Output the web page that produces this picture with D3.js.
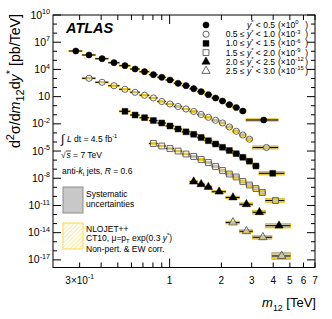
<!DOCTYPE html>
<html>
<head>
<meta charset="utf-8">
<script src="https://cdn.jsdelivr.net/npm/d3@7"></script>
<style>
  body { margin: 0; background: #fff; }
  svg { font-family: "Liberation Sans", Arial, Helvetica, sans-serif; }
</style>
</head>
<body>
<div id="chart"></div>
<script>
// bin edges in TeV, last edge closes the last (wide) bin
var edges1 = [0.26,0.31,0.37,0.44,0.51,0.59,0.67,0.76,0.85,0.95,1.06,1.18,1.31,1.45,1.60,1.76,1.94,2.12,2.33,2.55,2.78,4.27];
var edges2 = [0.31,0.37,0.44,0.51,0.59,0.67,0.76,0.85,0.95,1.06,1.18,1.31,1.45,1.60,1.76,1.94,2.12,2.33,2.55,2.78,3.04,4.27];
var edges3 = [0.51,0.59,0.67,0.76,0.85,0.95,1.06,1.18,1.31,1.45,1.60,1.76,1.94,2.12,2.33,2.55,2.78,3.04,3.31,4.64];
var edges4 = [0.76,0.85,0.95,1.06,1.18,1.31,1.45,1.60,1.76,1.94,2.12,2.33,2.55,2.78,3.04,3.31,3.61,4.64];
var edges5 = [1.31,1.45,1.60,1.76,2.12,2.55,3.04,3.61,5.04];
var edges6 = [2.12,2.55,3.04,3.93,5.04];

// measured cross-sections [pb/TeV] (before the legend scale factor)
var xs1 = [1.07e6,3.9e5,1.52e5,5.5e4,2.57e4,1.11e4,5.6e3,2.62e3,1.35e3,680,295,160,75,35,16.3,7.1,3.3,1.29,0.63,0.26,0.0265];
var xs2 = [1.05e6,3.8e5,1.6e5,6.4e4,3.0e4,1.4e4,7.1e3,2.9e3,1.54e3,817,433,229,107,52.6,24.5,12.4,4.5,1.51,0.59,0.203,0.0246];
var xs3 = [2.4e5,9.4e4,4.75e4,2.33e4,1.24e4,5.8e3,2.7e3,1.32e3,703,312,138,60,25.9,11.5,5.1,2.05,0.76,0.224,0.035];
var xs4 = [6.8e4,3.6e4,1.9e4,1.0e4,4.7e3,2.5e3,1.17e3,547,198,72,29.5,13.8,4.4,1.81,0.74,0.27,0.035];
var xs5 = [4.2e3,2.16e3,1.09e3,330,76,13.5,1.77,0.059];
var xs6 = [132,14.2,3.1,0.027];

// relative systematic uncertainties
var sys1 = [0.1,0.1,0.1,0.1,0.1,0.1,0.1,0.1,0.1,0.11,0.12,0.12,0.13,0.14,0.15,0.16,0.18,0.2,0.22,0.25,0.3];
var sys2 = [0.1,0.1,0.1,0.1,0.1,0.1,0.1,0.1,0.11,0.12,0.12,0.13,0.14,0.15,0.16,0.18,0.2,0.22,0.25,0.3,0.45];
var sys3 = [0.1,0.1,0.1,0.1,0.11,0.12,0.12,0.13,0.14,0.15,0.16,0.18,0.2,0.22,0.25,0.28,0.3,0.35,0.5];
var sys4 = [0.12,0.12,0.12,0.13,0.14,0.15,0.16,0.18,0.2,0.22,0.25,0.28,0.3,0.35,0.4,0.45,0.6];
var sys5 = [0.2,0.22,0.25,0.3,0.35,0.4,0.55,0.7];
var sys6 = [0.35,0.45,0.55,1.4];

// relative theory (NLOJET++) uncertainties
var th1 = [0.2,0.2,0.2,0.2,0.2,0.2,0.2,0.2,0.2,0.2,0.2,0.22,0.22,0.24,0.25,0.27,0.3,0.32,0.35,0.38,0.35];
var th2 = [0.2,0.2,0.2,0.2,0.2,0.2,0.2,0.2,0.2,0.22,0.22,0.24,0.25,0.27,0.3,0.32,0.35,0.38,0.4,0.42,0.5];
var th3 = [0.2,0.2,0.2,0.2,0.2,0.22,0.22,0.24,0.25,0.27,0.3,0.32,0.35,0.38,0.4,0.42,0.45,0.5,0.45];
var th4 = [0.22,0.22,0.22,0.24,0.25,0.27,0.3,0.32,0.35,0.38,0.4,0.42,0.45,0.5,0.55,0.6,0.6];
var th5 = [0.3,0.32,0.35,0.38,0.42,0.45,0.5,0.8];
var th6 = [0.45,0.5,0.6,1.0];

var rangeLabels = [
  [{t:"y",i:1},{t:"*",sup:1},{t:" < 0.5"}],
  [{t:"0.5 ≤ "},{t:"y",i:1},{t:"*",sup:1},{t:" < 1.0"}],
  [{t:"1.0 ≤ "},{t:"y",i:1},{t:"*",sup:1},{t:" < 1.5"}],
  [{t:"1.5 ≤ "},{t:"y",i:1},{t:"*",sup:1},{t:" < 2.0"}],
  [{t:"2.0 ≤ "},{t:"y",i:1},{t:"*",sup:1},{t:" < 2.5"}],
  [{t:"2.5 ≤ "},{t:"y",i:1},{t:"*",sup:1},{t:" < 3.0"}]
];
var scaleExps = [0, -3, -6, -9, -12, -15];
var markerShapes = ["circle", "circle", "square", "square", "triangle", "triangle"];
var markerOpen = [false, true, false, true, false, true];

var xTickMinor = [0.3,0.4,0.5,0.6,0.7,0.8,0.9,2,3,4,5,6,7];
var xTickMajor = [1];
var xTickLabels = [0.3,1,2,3,4,5,6,7];

var W = 332, H = 319;
var frame = {left: 53, right: 315, top: 15, bottom: 267.5};
var yellow = "#f2c900", yellowHatch = "#f7d84a";

var x = d3.scaleLog().domain([0.21, 7]).range([frame.left, frame.right]);
var y = d3.scaleLog().domain([Math.pow(10, -17.84), 1e10]).range([frame.bottom, frame.top]);

var svg = d3.select("#chart").append("svg")
    .attr("width", W)
    .attr("height", H);

var pat = svg.append("defs").append("pattern")
    .attr("id", "hatch")
    .attr("patternUnits", "userSpaceOnUse")
    .attr("width", 3)
    .attr("height", 3)
    .attr("patternTransform", "rotate(45)");
pat.append("line")
    .attr("x1", 0).attr("y1", 0).attr("x2", 0).attr("y2", 3)
    .attr("stroke", yellowHatch)
    .attr("stroke-width", 1.1);

// rich text helper: parts with italic / sup / sub
function rich(textSel, parts, size, small) {
    var cur = 0;
    small = small || 0.68;
    parts.forEach(function (p) {
        var want = p.sup ? -size * 0.42 : (p.sub ? size * 0.28 : 0);
        var ts = textSel.append("tspan").text(p.t);
        if (want - cur !== 0) ts.attr("dy", want - cur);
        cur = want;
        if (p.i) ts.attr("font-style", "italic");
        if (p.sup || p.sub) ts.attr("font-size", size * small);
    });
    return textSel;
}

// frame
svg.append("rect")
    .attr("x", frame.left).attr("y", frame.top)
    .attr("width", frame.right - frame.left)
    .attr("height", frame.bottom - frame.top)
    .attr("fill", "none")
    .attr("stroke", "#000")
    .attr("stroke-width", 1);

var ticks = svg.append("g").attr("stroke", "#000").attr("stroke-width", 1);

// y ticks each decade, long ones every three decades
d3.range(-17, 11).forEach(function (e) {
    var yy = y(Math.pow(10, e));
    var len = ((e - 10) % 3 === 0) ? 8 : 4;
    ticks.append("line").attr("x1", frame.left).attr("x2", frame.left + len).attr("y1", yy).attr("y2", yy);
    ticks.append("line").attr("x1", frame.right).attr("x2", frame.right - len).attr("y1", yy).attr("y2", yy);
    if ((e - 10) % 3 === 0) {
        var t = svg.append("text")
            .attr("x", 50).attr("y", yy + 3.6)
            .attr("text-anchor", "end")
            .attr("font-size", 10.5);
        if (e === 1) rich(t, [{t: "10"}], 10.5);
        else rich(t, [{t: "10"}, {t: String(e), sup: 1}], 10.5);
    }
});

// x ticks
xTickMinor.forEach(function (v) {
    var xx = x(v);
    ticks.append("line").attr("x1", xx).attr("x2", xx).attr("y1", frame.bottom).attr("y2", frame.bottom - 5);
    ticks.append("line").attr("x1", xx).attr("x2", xx).attr("y1", frame.top).attr("y2", frame.top + 5);
});
xTickMajor.forEach(function (v) {
    var xx = x(v);
    ticks.append("line").attr("x1", xx).attr("x2", xx).attr("y1", frame.bottom).attr("y2", frame.bottom - 9);
    ticks.append("line").attr("x1", xx).attr("x2", xx).attr("y1", frame.top).attr("y2", frame.top + 9);
});
xTickLabels.forEach(function (v) {
    var t = svg.append("text")
        .attr("x", x(v)).attr("y", 283.5)
        .attr("text-anchor", "middle")
        .attr("font-size", 10);
    if (v < 1) rich(t, [{t: "3×10"}, {t: "-1", sup: 1}], 10);
    else t.text(v);
});

// axis titles
rich(svg.append("text")
    .attr("x", 316).attr("y", 307)
    .attr("text-anchor", "end")
    .attr("font-size", 13),
    [{t: "m", i: 1}, {t: "12", sub: 1}, {t: " [TeV]"}], 13);

rich(svg.append("text")
    .attr("transform", "translate(20,14) rotate(-90)")
    .attr("text-anchor", "end")
    .attr("font-size", 14.2),
    [{t: "d"}, {t: "2", sup: 1}, {t: "σ/d"}, {t: "m", i: 1}, {t: "12", sub: 1}, {t: "d"}, {t: "y", i: 1}, {t: "*", sup: 1}, {t: "  [pb/TeV]"}], 14.2, 0.78);

// data
var allEdges = [edges1, edges2, edges3, edges4, edges5, edges6];
var allXs = [xs1, xs2, xs3, xs4, xs5, xs6];
var allSys = [sys1, sys2, sys3, sys4, sys5, sys6];
var allTh = [th1, th2, th3, th4, th5, th6];

function markerPath(shape) {
    if (shape === "circle") return d3.symbol().type(d3.symbolCircle).size(30)();
    if (shape === "square") return d3.symbol().type(d3.symbolSquare).size(34)();
    return d3.symbol().type(d3.symbolTriangle).size(30)();
}

var points = [];
allXs.forEach(function (vals, s) {
    var ed = allEdges[s], f = Math.pow(10, scaleExps[s]);
    vals.forEach(function (v, i) {
        points.push({
            s: s, lo: ed[i], hi: ed[i + 1], m: (ed[i] + ed[i + 1]) / 2,
            v: v * f, sys: allSys[s][i], th: allTh[s][i]
        });
    });
});

var gData = svg.append("g");

gData.selectAll(".sys").data(points).enter().append("rect")
    .attr("class", "sys")
    .attr("x", function (d) { return x(d.lo); })
    .attr("width", function (d) { return x(d.hi) - x(d.lo); })
    .attr("y", function (d) { return y(d.v * (1 + d.sys)); })
    .attr("height", function (d) { return y(d.v / (1 + d.sys)) - y(d.v * (1 + d.sys)); })
    .attr("fill", "#c4c4c4")
    .attr("stroke", "#9a9a9a")
    .attr("stroke-width", 0.6);

gData.selectAll(".th").data(points).enter().append("rect")
    .attr("class", "th")
    .attr("x", function (d) { return x(d.lo); })
    .attr("width", function (d) { return x(d.hi) - x(d.lo); })
    .attr("y", function (d) { return y(d.v * (1 + d.th)); })
    .attr("height", function (d) { return y(d.v / (1 + d.th)) - y(d.v * (1 + d.th)); })
    .attr("fill", "url(#hatch)")
    .attr("stroke", yellow)
    .attr("stroke-width", 0.8);

// horizontal bars: gap where the marker is open
gData.selectAll(".xl").data(points).enter().append("path")
    .attr("class", "xl")
    .attr("fill", "none")
    .attr("stroke", "#000")
    .attr("stroke-width", 1)
    .attr("d", function (d) {
        var yy = y(d.v), xc = x(d.m), g = markerOpen[d.s] ? 3 : 0;
        return "M" + x(d.lo) + "," + yy + "H" + (xc - g) + "M" + (xc + g) + "," + yy + "H" + x(d.hi);
    });

gData.selectAll(".mk").data(points).enter().append("path")
    .attr("class", "mk")
    .attr("transform", function (d) { return "translate(" + x(d.m) + "," + y(d.v) + ")"; })
    .attr("d", function (d) { return markerPath(markerShapes[d.s]); })
    .attr("fill", function (d) { return markerOpen[d.s] ? "none" : "#000"; })
    .attr("stroke", function (d) { return markerOpen[d.s] ? "#555" : "#000"; })
    .attr("stroke-width", function (d) { return markerOpen[d.s] ? 0.9 : 0.5; });

// ATLAS label
svg.append("text")
    .attr("x", 66).attr("y", 33)
    .attr("font-size", 14.5)
    .attr("font-weight", "bold")
    .attr("font-style", "italic")
    .text("ATLAS");

// legend top right
var legFs = 8.5;
var legRows = [28, 37.2, 46.4, 55.6, 64.8, 74];
rangeLabels.forEach(function (parts, i) {
    var yy = legRows[i];
    gData.append("path")
        .attr("transform", "translate(206," + (yy - 3) + ")")
        .attr("d", markerPath(markerShapes[i]))
        .attr("fill", markerOpen[i] ? "none" : "#000")
        .attr("stroke", markerOpen[i] ? "#555" : "#000")
        .attr("stroke-width", markerOpen[i] ? 0.9 : 0.5);
    rich(svg.append("text").attr("x", 275).attr("y", yy).attr("text-anchor", "end").attr("font-size", legFs), parts, legFs);
    rich(svg.append("text").attr("x", 278).attr("y", yy).attr("font-size", legFs),
        [{t: "(×10"}, {t: String(scaleExps[i]), sup: 1}], legFs);
    svg.append("text").attr("x", 308).attr("y", yy).attr("text-anchor", "end").attr("font-size", legFs).text(")");
});

// left annotations
var txFs = 8.5;
svg.append("text").attr("x", 61).attr("y", 143).attr("font-size", 12).text("∫");
rich(svg.append("text").attr("x", 67).attr("y", 142).attr("font-size", txFs),
    [{t: "L", i: 1}, {t: " dt = 4.5 fb"}, {t: "-1", sup: 1}], txFs);
svg.append("text").attr("x", 61).attr("y", 158).attr("font-size", txFs).text("√");
svg.append("line").attr("x1", 66).attr("x2", 71).attr("y1", 151).attr("y2", 151).attr("stroke", "#000").attr("stroke-width", 0.7);
rich(svg.append("text").attr("x", 66.5).attr("y", 158).attr("font-size", txFs),
    [{t: "s", i: 1}, {t: " = 7 TeV"}], txFs);
rich(svg.append("text").attr("x", 62).attr("y", 174).attr("font-size", txFs),
    [{t: "anti-"}, {t: "k", i: 1}, {t: "t", sub: 1}, {t: " jets, "}, {t: "R", i: 1}, {t: " = 0.6"}], txFs);

svg.append("rect")
    .attr("x", 63).attr("y", 187).attr("width", 20).attr("height", 26)
    .attr("fill", "#c8c8c8").attr("stroke", "#8c8c8c").attr("stroke-width", 1);
svg.append("text").attr("x", 86).attr("y", 197).attr("font-size", txFs).text("Systematic");
svg.append("text").attr("x", 86).attr("y", 207).attr("font-size", txFs).text("uncertainties");

svg.append("rect")
    .attr("x", 63).attr("y", 223).attr("width", 20).attr("height", 26)
    .attr("fill", "url(#hatch)").attr("stroke", yellowHatch).attr("stroke-width", 1);
svg.append("text").attr("x", 86).attr("y", 232).attr("font-size", txFs).text("NLOJET++");
rich(svg.append("text").attr("x", 86).attr("y", 241).attr("font-size", txFs),
    [{t: "CT10, μ=p"}, {t: "T", sub: 1}, {t: " exp(0.3 "}, {t: "y", i: 1}, {t: "*", sup: 1}, {t: ")"}], txFs);
svg.append("text").attr("x", 86).attr("y", 252).attr("font-size", txFs).text("Non-pert. & EW corr.");
</script>
</body>
</html>
